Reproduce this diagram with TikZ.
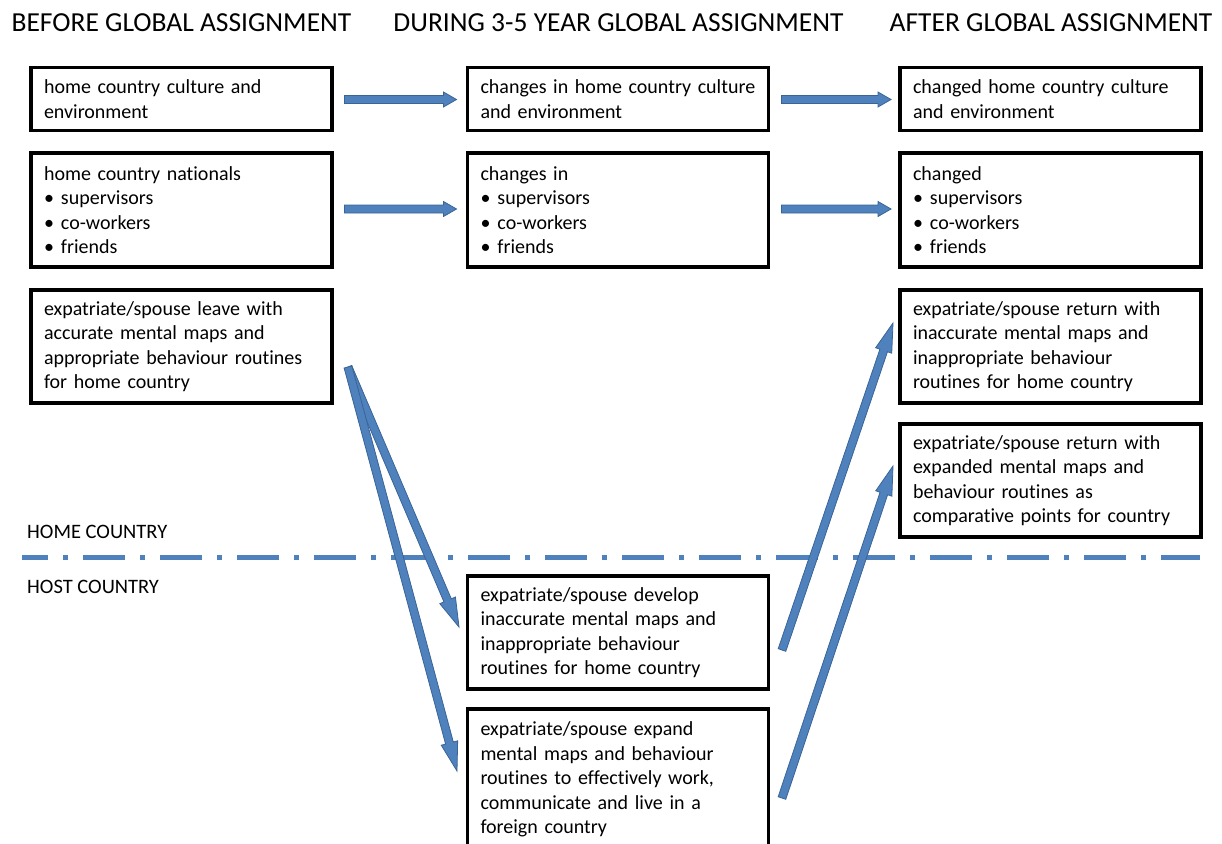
\documentclass[tikz,border=0pt]{standalone}
\usepackage{fontspec}
\setmainfont{Carlito}[Ligatures=NoCommon]
\usetikzlibrary{calc}
\definecolor{arrowblue}{HTML}{4F81BD}
\definecolor{arrowedge}{HTML}{3A6496}
\newcommand\bodyfont{\fontsize{20}{24.4}\selectfont}
\newcommand\headfont{\fontsize{27.5}{33}\selectfont}
\newcommand\bl{\makebox[17pt][l]{\textbullet}}
% block arrow from #1 (tail) to #2 (tip), head length #3, half head width #4
\newcommand\blockarrow[4]{%
  \coordinate (bah) at ($(#2)!#3!(#1)$);
  \filldraw[barrow]
    ($(#1)!4pt!90:(#2)$) -- ($(bah)!4pt!-90:(#1)$) -- ($(bah)!#4!-90:(#1)$) -- (#2)
    -- ($(bah)!#4!90:(#1)$) -- ($(bah)!4pt!90:(#1)$) -- ($(#1)!4pt!-90:(#2)$) -- cycle;}
\tikzset{
  box/.style={draw, line width=3.5pt, rectangle, anchor=north west, align=left,
    inner xsep=13pt, inner ysep=0pt, outer sep=0pt, text width=275pt,
    minimum height=#1, font=\bodyfont},
  head/.style={anchor=base, font=\headfont, inner sep=0pt},
  region/.style={anchor=base west, font=\fontsize{20.5}{24}\selectfont, inner sep=0pt},
  barrow/.style={fill=arrowblue, draw=arrowedge, line width=0.8pt, line join=miter},
  dashline/.style={draw=arrowblue, line width=5pt, dash pattern=on 42pt off 15pt on 5pt off 15pt, dash phase=16pt}
}
\begin{document}
\begin{tikzpicture}[x=1pt, y=-1pt]
\useasboundingbox (0,0) rectangle (1222,843);

% column headings
\node[head] (hb) at (181.5,32) {BEFORE GLOBAL ASSIGNMENT};
\node[head] (hd) at (618.5,32) {DURING 3-5 YEAR GLOBAL ASSIGNMENT};
\node[head] (ha) at (1051,32) {AFTER GLOBAL ASSIGNMENT};

% before
\node[box=63pt] (b1) at (31,67.5) {home country culture and\\environment};
\node[box=114pt] (b2) at (31,153) {home country nationals\\\bl supervisors\\\bl co-workers\\\bl friends};
\node[box=113pt] (b3) at (31,290) {expatriate/spouse leave with\\accurate mental maps and\\appropriate behaviour routines\\for home country};

% during
\node[box=63pt] (d1) at (467.5,67.5) {changes in home country culture\\and environment};
\node[box=114pt] (d2) at (467.5,153) {changes in\\\bl supervisors\\\bl co-workers\\\bl friends};
\node[box=113pt] (d3) at (467.5,576) {expatriate/spouse develop\\inaccurate mental maps and\\inappropriate behaviour\\routines for home country};
\node[box=141pt] (d4) at (467.5,709) {expatriate/spouse expand\\mental maps and behaviour\\routines to effectively work,\\communicate and live in a\\foreign country};

% after
\node[box=63pt] (a1) at (900,67.5) {changed home country culture\\and environment};
\node[box=114pt] (a2) at (900,153) {changed\\\bl supervisors\\\bl co-workers\\\bl friends};
\node[box=113pt] (a3) at (900,290) {expatriate/spouse return with\\inaccurate mental maps and\\inappropriate behaviour\\routines for home country};
\node[box=113pt] (a4) at (900,424) {expatriate/spouse return with\\expanded mental maps and\\behaviour routines as\\comparative points for country};

% home / host boundary
\node[region] (home) at (27,538) {HOME COUNTRY};
\node[region] (host) at (27,593) {HOST COUNTRY};
\draw[dashline] (22,557) -- (1200,557);

% horizontal arrows
\coordinate (t1) at ($(b1.east)+(12.5,0.5)$);
\coordinate (p1) at ($(d1.west)+(-11,0.5)$);
\coordinate (t2) at ($(b2.east)+(12.5,-1)$);
\coordinate (p2) at ($(d2.west)+(-11,-1)$);
\coordinate (t3) at ($(d1.east)+(13,0.5)$);
\coordinate (p3) at ($(a1.west)+(-9,0.5)$);
\coordinate (t4) at ($(d2.east)+(13,-1)$);
\coordinate (p4) at ($(a2.west)+(-9,-1)$);
\blockarrow{t1}{p1}{13pt}{7.5pt}
\blockarrow{t2}{p2}{13pt}{7.5pt}
\blockarrow{t3}{p3}{13pt}{7.5pt}
\blockarrow{t4}{p4}{13pt}{7.5pt}

% diagonal arrows into and out of the host country
\coordinate (s0) at (348,367);
\coordinate (q1) at (459,627);
\coordinate (q2) at (457,771);
\blockarrow{s0}{q1}{29pt}{8.5pt}
\blockarrow{s0}{q2}{29pt}{8.5pt}
\coordinate (u1) at (782,650);
\coordinate (r1) at (893,323);
\coordinate (u2) at (782,798);
\coordinate (r2) at (893,466);
\blockarrow{u1}{r1}{29pt}{8.5pt}
\blockarrow{u2}{r2}{29pt}{8.5pt}
\end{tikzpicture}
\end{document}
